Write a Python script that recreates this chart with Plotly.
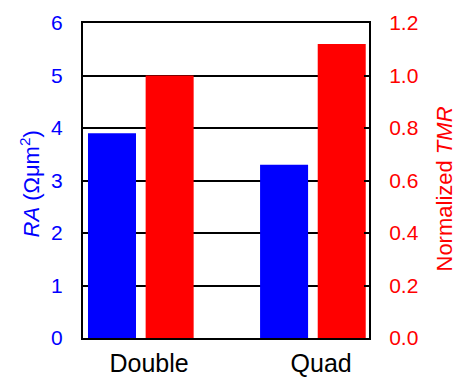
import plotly.graph_objects as go

categories = ["Double", "Quad"]
ra_values = [3.9, 3.3]          # RA (Ωμm²), left axis
tmr_values = [1.0, 1.12]        # Normalized TMR, right axis
left_ticks = [0, 1, 2, 3, 4, 5, 6]
right_ticks = [0.0, 0.2, 0.4, 0.6, 0.8, 1.0, 1.2]

FONT = "Liberation Sans, Arial, Helvetica, sans-serif"
BLUE = "#0000FF"
RED = "#FF0000"

x = list(range(len(categories)))

fig = go.Figure()
fig.add_trace(go.Bar(x=x, y=ra_values, width=0.279, offset=-0.305,
                     marker=dict(color=BLUE, line=dict(width=0)), yaxis="y",
                     showlegend=False))
fig.add_trace(go.Bar(x=x, y=tmr_values, width=0.279, offset=0.03,
                     marker=dict(color=RED, line=dict(width=0)), yaxis="y2",
                     showlegend=False))

fig.update_layout(
    width=456, height=377,
    margin=dict(l=83, r=87, t=23, b=39),
    paper_bgcolor="white", plot_bgcolor="white",
    font=dict(family=FONT),
    barmode="overlay",
    xaxis=dict(range=[-0.334, 1.328], tickvals=[v + 0.05 for v in x], ticktext=categories,
               showline=True, mirror=True, linecolor="black", linewidth=2,
               showgrid=False, zeroline=False, ticks="", automargin=False,
               tickfont=dict(size=25, color="black"), ticklabelstandoff=2),
    yaxis=dict(range=[0, 6], tickvals=left_ticks, ticktext=[str(v) for v in left_ticks],
               showline=True, linecolor="black", linewidth=2, automargin=False,
               showgrid=True, gridcolor="black", gridwidth=1.5, zeroline=False,
               ticks="inside", ticklen=5, tickwidth=1.5, tickcolor="black",
               tickfont=dict(size=21, color=BLUE), ticklabelstandoff=14),
    yaxis2=dict(range=[0, 1.2], overlaying="y", side="right", automargin=False,
                tickvals=right_ticks, ticktext=[f"{v:.1f}" for v in right_ticks],
                showline=True, linecolor="black", linewidth=2,
                showgrid=False, zeroline=False,
                ticks="inside", ticklen=5, tickwidth=1.5, tickcolor="black",
                tickfont=dict(size=21, color=RED), ticklabelstandoff=14),
    annotations=[
        dict(text="<i>RA</i> (Ωμm<sup>2</sup>)", xref="paper", yref="paper",
             x=0, y=0.5, xanchor="center", yanchor="middle", xshift=-54, yshift=-4,
             textangle=-90, showarrow=False, font=dict(size=22, color=BLUE, family=FONT)),
        dict(text="Normalized <i>TMR</i>", xref="paper", yref="paper",
             x=1, y=0.5, xanchor="center", yanchor="middle", xshift=75, yshift=-9,
             textangle=-90, showarrow=False, font=dict(size=22, color=RED, family=FONT)),
    ],
)

fig.write_html("out.html")
